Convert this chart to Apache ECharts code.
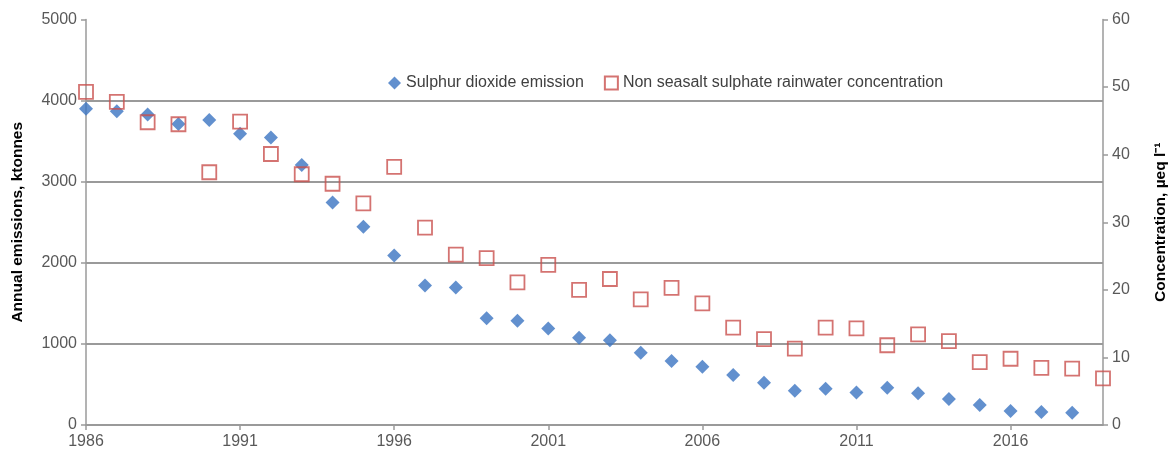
<!DOCTYPE html>
<html>
<head>
<meta charset="utf-8">
<script src="https://cdn.jsdelivr.net/npm/echarts@6/dist/echarts.min.js"></script>
<style>
  html, body { margin: 0; padding: 0; background: #fff; }
  #chart { width: 1171px; height: 459px; }
</style>
</head>
<body>
<div id="chart"></div>
<script>
// Years on the horizontal axis (1986–2019)
const years = [];
for (let y = 1986; y <= 2019; y++) years.push(String(y));

// Annual sulphur dioxide emissions, ktonnes (1986–2018)
const so2Emission = [
  3900, 3870, 3830, 3710, 3760, 3590, 3545, 3205, 2745, 2445,
  2090, 1720, 1695, 1315, 1285, 1190, 1075, 1045, 890, 790,
  718, 615, 520, 422, 446, 402, 460, 390, 320, 246,
  172, 160, 150
];

// Non seasalt sulphate rainwater concentration, µeq l⁻¹ (1986–2019)
const sulphateConc = [
  49.3, 47.8, 44.8, 44.5, 37.4, 44.9, 40.1, 37.1, 35.7, 32.8,
  38.2, 29.2, 25.2, 24.7, 21.1, 23.7, 20.0, 21.6, 18.6, 20.3,
  18.0, 14.4, 12.7, 11.3, 14.4, 14.3, 11.8, 13.4, 12.4, 9.3,
  9.8, 8.45, 8.35, 6.9
];

const textColor = '#595959';
const lineColor = '#9a9a9a';
const fontFamily = '"Liberation Sans", Arial, sans-serif';

const chart = echarts.init(document.getElementById('chart'), null, { renderer: 'canvas' });

chart.setOption({
  animation: false,
  textStyle: { fontFamily },
  grid: {
    left: 86, right: 68, top: 19.5, bottom: 34,
    containLabel: false,
    outerBoundsMode: 'none'
  },
  legend: {
    left: 383,
    top: 70,
    itemWidth: 13,
    itemHeight: 13,
    itemGap: 20,
    textStyle: { color: '#404040', fontSize: 16, fontFamily },
    data: [
      { name: 'Sulphur dioxide emission', icon: 'diamond' },
      { name: 'Non seasalt sulphate rainwater concentration', icon: 'rect' }
    ]
  },
  xAxis: {
    type: 'category',
    data: years,
    boundaryGap: false,
    axisLine: { lineStyle: { color: lineColor, width: 1.5 } },
    axisTick: { show: true, interval: 4, length: 5, lineStyle: { color: lineColor, width: 1.5 } },
    axisLabel: { interval: 4, color: textColor, fontSize: 16, margin: 9 },
    splitLine: { show: false }
  },
  yAxis: [
    {
      type: 'value',
      min: 0, max: 5000, interval: 1000,
      name: 'Annual emissions, ktonnes',
      nameLocation: 'middle',
      nameRotate: 90,
      nameGap: 60,
      nameTextStyle: { color: '#000', fontSize: 15.5, fontWeight: 'bold' },
      axisLine: { show: true, lineStyle: { color: lineColor, width: 1.5 } },
      axisTick: { show: true, length: 5, lineStyle: { color: lineColor, width: 1.5 } },
      axisLabel: { color: textColor, fontSize: 16, margin: 9, formatter: v => String(v) },
      splitLine: {
        show: true,
        lineStyle: { color: lineColor, width: 2 },
        showMaxLine: false
      }
    },
    {
      type: 'value',
      min: 0, max: 60, interval: 10,
      position: 'right',
      name: 'Concentration, µeq l⁻¹',
      nameLocation: 'middle',
      nameRotate: 90,
      nameGap: 50,
      nameTextStyle: { color: '#000', fontSize: 15.5, fontWeight: 'bold' },
      axisLine: { show: true, lineStyle: { color: lineColor, width: 1.5 } },
      axisTick: { show: true, length: 5, lineStyle: { color: lineColor, width: 1.5 } },
      axisLabel: { color: textColor, fontSize: 16, margin: 9 },
      splitLine: { show: false }
    }
  ],
  series: [
    {
      name: 'Sulphur dioxide emission',
      type: 'scatter',
      yAxisIndex: 0,
      symbol: 'diamond',
      symbolSize: [14, 14],
      itemStyle: { color: '#3b74c2' },
      data: so2Emission,
      z: 2
    },
    {
      name: 'Non seasalt sulphate rainwater concentration',
      type: 'scatter',
      yAxisIndex: 1,
      symbol: 'rect',
      symbolSize: 14,
      itemStyle: { color: 'rgba(255,255,255,0)', borderColor: '#c9504d', borderWidth: 1.8 },
      data: sulphateConc,
      z: 3
    }
  ]
});
</script>
</body>
</html>
